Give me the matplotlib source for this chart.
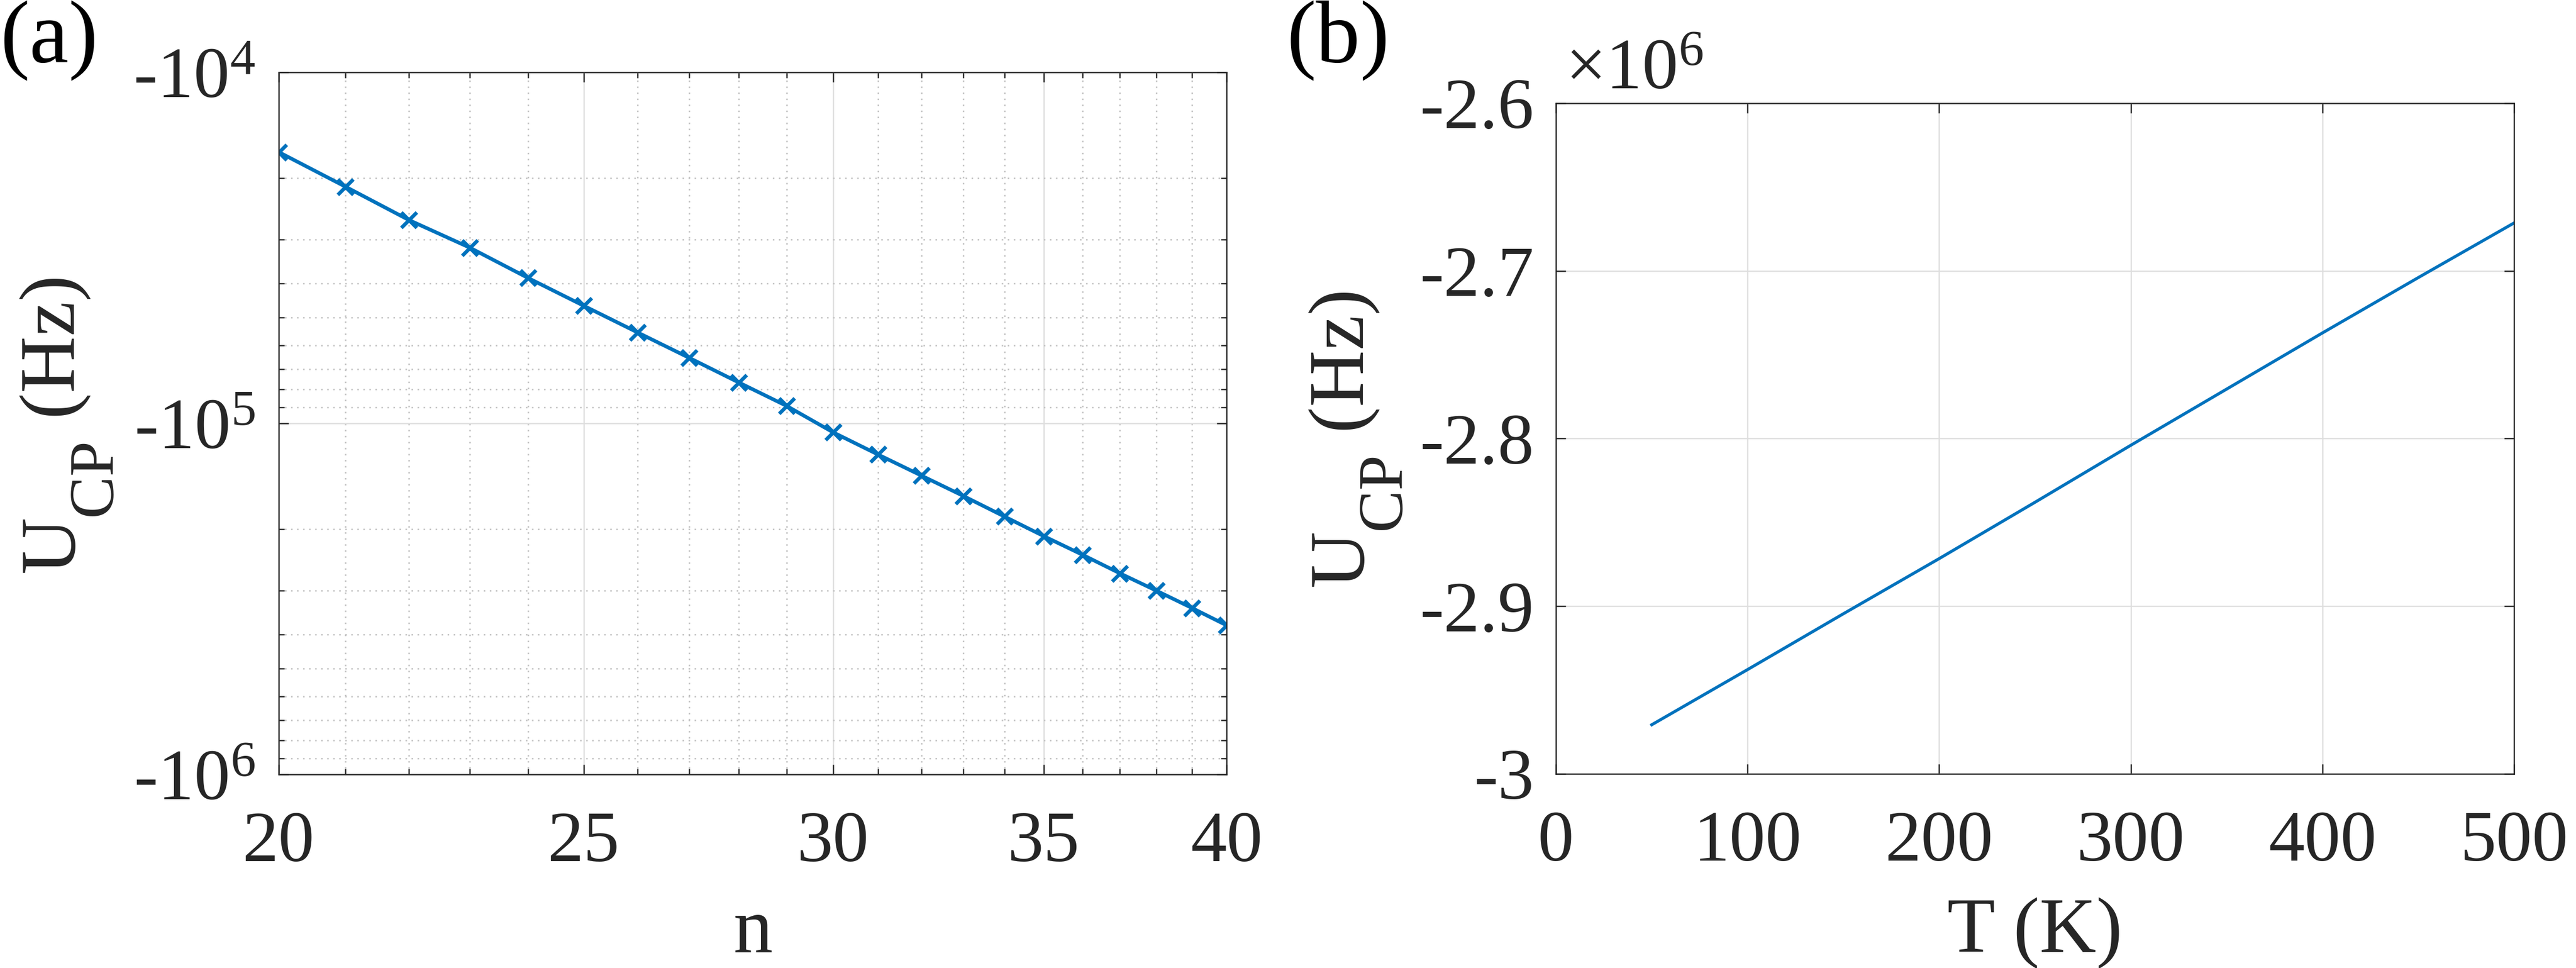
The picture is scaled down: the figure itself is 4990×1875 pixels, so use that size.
import numpy as np
import matplotlib
matplotlib.use('Agg')
import matplotlib.pyplot as plt
from matplotlib.font_manager import FontProperties
from matplotlib.ticker import FixedLocator, FuncFormatter, NullFormatter, LogLocator

# (a) U_CP versus principal quantum number n (Hz)
n_vals = [20, 21, 22, 23, 24, 25, 26, 27, 28, 29, 30,
          31, 32, 33, 34, 35, 36, 37, 38, 39, 40]
U_n = [-16880, -21180, -26370, -31600, -38540, -46270, -55080, -65060,
       -76510, -89270, -106100, -122700, -140900, -161100, -184200,
       -209700, -236800, -267500, -299700, -335700, -376100]
n_ticks = [20, 25, 30, 35, 40]

# (b) U_CP versus temperature T (Hz)
T_vals = [50, 100, 150, 200, 250, 300, 350, 400, 450, 500]
U_T = [-2.9707e6, -2.9378e6, -2.9045e6, -2.8716e6, -2.8380e6,
       -2.8040e6, -2.7705e6, -2.7370e6, -2.7040e6, -2.6714e6]
T_ticks = [0, 100, 200, 300, 400, 500]
U_ticks = [-3.0, -2.9, -2.8, -2.7, -2.6]

plt.rcParams['font.family'] = ['Liberation Serif', 'DejaVu Serif']
plt.rcParams['mathtext.fontset'] = 'custom'
plt.rcParams['mathtext.rm'] = 'Liberation Serif'
plt.rcParams['mathtext.it'] = 'Liberation Serif:italic'
plt.rcParams['axes.unicode_minus'] = False

W, H = 4990, 1875
DPI = 300
fig = plt.figure(figsize=(W / DPI, H / DPI), dpi=DPI)
renderer = fig.canvas.get_renderer()

txt = '#262626'
blue = '#0072BD'
tick_fs = 33.5
lab_fs = 36.5
sub_fs = 29.5
major_grid = '#dedede'
minor_grid = '#c4c4c4'


def px_axes(l, t, r, b):
    return fig.add_axes([l / W, 1 - b / H, (r - l) / W, (b - t) / H])


def style(ax):
    for s in ax.spines.values():
        s.set_linewidth(0.6)
        s.set_color(txt)
    ax.tick_params(which='both', direction='in', top=True, right=True,
                   colors=txt, width=0.6, labelsize=tick_fs)
    ax.tick_params(which='major', length=4.6)
    ax.tick_params(which='minor', length=2.6)
    ax.tick_params(axis='x', pad=17)
    ax.set_axisbelow(True)


def text_w(s, size):
    w, h, d = renderer.get_text_width_height_descent(
        s, FontProperties(family='Liberation Serif', size=size), ismath=False)
    return w


def ylabel_ucp(base_x, center_y, sub_drop=72):
    # vertical label "U_CP (Hz)" built from pieces, MATLAB-style subscript
    pieces = [('U', lab_fs, 0), ('CP', sub_fs, sub_drop), (' (Hz)', lab_fs, 0)]
    total = sum(text_w(s, fs) for s, fs, _ in pieces)
    y = center_y + total / 2          # pixels from top, text runs upward
    for s, fs, drop in pieces:
        fig.text((base_x + drop) / W, 1 - y / H, s, fontsize=fs, color=txt,
                 rotation=90, rotation_mode='anchor', ha='left', va='baseline')
        y -= text_w(s, fs)


# ---- panel (a)
ax1 = px_axes(540, 140, 2376, 1500)
style(ax1)
ax1.tick_params(axis='y', pad=11)
ax1.plot(n_vals, -np.array(U_n), color=blue, lw=1.7, marker='x',
         ms=7.2, mew=1.7)
ax1.set_xscale('log')
ax1.set_yscale('log')
ax1.set_xlim(20, 40)
ax1.set_ylim(1e4, 1e6)
ax1.invert_yaxis()
ax1.xaxis.set_major_locator(FixedLocator(n_ticks))
ax1.xaxis.set_major_formatter(FuncFormatter(lambda v, p: '%d' % v))
ax1.xaxis.set_minor_locator(FixedLocator([v for v in n_vals if v not in n_ticks]))
ax1.xaxis.set_minor_formatter(NullFormatter())
ax1.yaxis.set_major_locator(FixedLocator([1e4, 1e5, 1e6]))
ax1.yaxis.set_major_formatter(
    FuncFormatter(lambda v, p: '-10$^{%d}$' % round(np.log10(v))))
ax1.yaxis.set_minor_locator(LogLocator(base=10, subs=np.arange(2, 10)))
ax1.yaxis.set_minor_formatter(NullFormatter())
ax1.grid(which='major', color=major_grid, lw=0.6, ls='-')
ax1.grid(which='minor', color=minor_grid, lw=0.7, ls=(0, (1, 3)))

fig.text(1458 / W, 1 - 1843 / H, 'n', fontsize=lab_fs, color=txt,
         ha='center', va='baseline')
ylabel_ucp(143, 821)
fig.text(0, 1, '(a)', fontsize=41, color='black', ha='left', va='top')

# ---- panel (b)
ax2 = px_axes(3014, 200, 4870, 1499)
style(ax2)
ax2.tick_params(axis='y', pad=10)
ax2.plot(T_vals, np.array(U_T) / 1e6, color=blue, lw=1.4)
ax2.set_xlim(0, 500)
ax2.set_ylim(-3.0, -2.6)
ax2.set_xticks(T_ticks)
ax2.set_yticks(U_ticks)
ax2.yaxis.set_major_formatter(FuncFormatter(lambda v, p: '%g' % round(v, 1)))
ax2.grid(which='major', color=major_grid, lw=0.6, ls='-')

fig.text(3942 / W, 1 - 1843 / H, 'T (K)', fontsize=lab_fs, color=txt,
         ha='center', va='baseline')
ylabel_ucp(2640, 848)
fig.text(3032 / W, 1 - 172 / H, '×10$^{6}$', fontsize=tick_fs, color=txt,
         ha='left', va='baseline')
fig.text(2492 / W, 1, '(b)', fontsize=41, color='black', ha='left', va='top')

fig.savefig('out.png', dpi=DPI)
